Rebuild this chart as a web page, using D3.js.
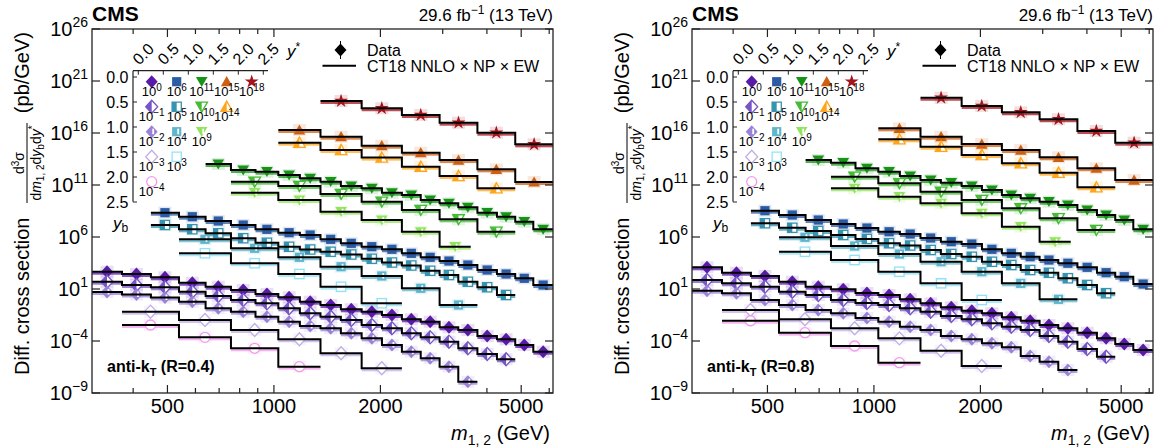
<!DOCTYPE html>
<html lang="en">
<head>
<meta charset="UTF-8" />
<title>Dijet triple-differential cross section</title>
<style>
  body { margin: 0; background: white; overflow: hidden; }
  svg { display: block; font-family: "Liberation Sans", Arial, Helvetica, sans-serif; }
</style>
</head>
<body>
<svg id="chart" width="1162" height="448"></svg>
<script src="https://d3js.org/d3.v7.min.js"></script>
<script>
// ---- data (pb/GeV, before the 10^n offsets) ----
const massEdgesFine = [306, 372, 449, 539, 641, 756, 887, 1029, 1184, 1354, 1546, 1770,
                       2020, 2300, 2600, 2940, 3320, 3760, 4270, 4810, 5410, 6150];

const seriesIds = ["s00","s01","s02","s03","s04","s10","s11","s12","s13","s20","s21","s22","s30","s31","s40"];
const yStarIdx  = [0, 0, 0, 0, 0, 1, 1, 1, 1, 2, 2, 2, 3, 3, 4];
const yBoostIdx = [0, 1, 2, 3, 4, 0, 1, 2, 3, 0, 1, 2, 0, 1, 0];
const scaleExp  = [0, -1, -2, -3, -4, 6, 5, 4, 3, 11, 10, 9, 15, 14, 18];
const seriesColor = ["#5a1aa8", "#7656c4", "#9a82d6", "#c2aee6", "#f09cec",
                     "#2b5ba3", "#3893b0", "#5fb5cb", "#92e2f4",
                     "#179417", "#45bb36", "#92e45e",
                     "#cc5f10", "#ffa51c", "#a3141c"];

// bin edges per (y*, yb) series
const edges_s00 = massEdgesFine.slice(0, 22);
const edges_s01 = massEdgesFine.slice(0, 20);
const edges_s02 = massEdgesFine.slice(0, 18);
const edges_s03 = [372, 539, 756, 1029, 1354, 1770, 2300];
const edges_s04 = [372, 539, 756, 1029, 1354];
const edges_s10 = massEdgesFine.slice(2, 22);
const edges_s11 = massEdgesFine.slice(2, 20);
const edges_s12 = [539, 756, 1029, 1354, 1770, 2300, 2940, 3760];
const edges_s13 = [539, 756, 1029, 1354, 1770, 2300];
const edges_s20 = massEdgesFine.slice(4, 22);
const edges_s21 = [756, 1029, 1354, 1770, 2300, 2940, 3760, 4810];
const edges_s22 = [756, 1029, 1354, 1770, 2300, 2940, 3600];
const edges_s30 = [1029, 1354, 1770, 2300, 2940, 3760, 4810, 6150];
const edges_s31 = [1029, 1354, 1770, 2300, 2940, 3760, 4810];
const edges_s40 = [1354, 1770, 2300, 2940, 3760, 4810, 6150];

// anti-kT R=0.4
const r04_s00 = [460, 277, 133, 40, 16.6, 8.0, 3.3, 1.59, 0.60, 0.289, 0.112, 0.066, 0.0316, 0.0122, 7.2e-3, 2.07e-3, 1.14e-3, 3.0e-4, 1.46e-4, 4.1e-5, 9.4e-6];
const r04_s01 = [502, 242, 146, 55, 21.2, 8.7, 4.2, 1.39, 0.46, 0.217, 0.104, 0.0345, 0.0166, 5.5e-3, 2.26e-3, 8.6e-4, 2.0e-4, 5.6e-5, 1.74e-5];
const r04_s02 = [514, 296, 152, 60, 13.9, 6.6, 2.17, 0.72, 0.277, 0.166, 0.055, 0.018, 4.1e-3, 9.4e-4, 2.17e-4, 3.4e-5, 1.22e-6];
const r04_s03 = [66, 10.4, 1.14, 0.146, 6.6e-3, 2.37e-4];
const r04_s04 = [34.5, 2.26, 0.199, 3.4e-3];
const r04_s10 = [217, 89, 34.5, 14.2, 5.5, 2.59, 1.56, 0.60, 0.248, 0.117, 0.066, 0.027, 0.0112, 4.9e-3, 2.03e-3, 6.7e-4, 2.77e-4, 1.07e-4, 2.4e-5];
const r04_s11 = [142, 55, 22.6, 7.5, 2.8, 1.17, 0.63, 0.385, 0.207, 0.080, 0.035, 0.018, 5.6e-3, 2.2e-3, 5.0e-4, 1.46e-4, 2.65e-5];
const r04_s12 = [60, 8.2, 1.12, 0.139, 0.0178, 1.17e-3, 2.9e-5];
const r04_s13 = [27, 2.96, 0.277, 0.0166, 4.2e-4];
const r04_s20 = [104, 27.7, 19.0, 9.1, 4.4, 2.07, 0.80, 0.48, 0.18, 0.109, 0.036, 0.0174, 7.2e-3, 2.17e-3, 8.9e-4, 2.96e-4, 5.5e-5];
const r04_s21 = [20.7, 8.0, 1.36, 0.248, 0.039, 5.0e-3, 3.2e-4];
const r04_s22 = [18.2, 3.6, 0.27, 0.043, 3.2e-3, 1.17e-4];
const r04_s30 = [19.5, 4.4, 0.60, 0.129, 0.025, 3.2e-3, 1.95e-4];
const r04_s31 = [11.7, 2.34, 0.43, 0.058, 7.4e-3, 4.8e-4];
const r04_s40 = [12, 2.4, 0.54, 0.098, 0.0107, 8.1e-4];

// anti-kT R=0.8
const r08_s00 = [1220, 369, 178, 50, 16.6, 9.4, 4.1, 2.65, 1.02, 0.42, 0.174, 0.082, 0.046, 0.019, 8.9e-3, 3.45e-3, 1.66e-3, 6.3e-4, 1.82e-4, 5.1e-5, 1.36e-5];
const r08_s01 = [733, 353, 166, 55, 26.5, 8.7, 4.5, 2.89, 1.39, 0.66, 0.253, 0.122, 0.050, 0.0237, 0.0114, 3.0e-3, 8.6e-4, 1.7e-4, 3.1e-5];
const r08_s02 = [685, 385, 87, 28.9, 9.5, 4.6, 1.63, 0.72, 0.237, 0.114, 0.030, 0.0146, 6.0e-3, 2.48e-3, 3.6e-4, 1.02e-4, 1.63e-5];
const r08_s03 = [95, 12.2, 1.66, 0.18, 0.0117, 3.9e-4];
const r08_s04 = [89, 6.3, 0.33, 8.2e-3];
const r08_s10 = [337, 130, 43, 17.8, 7.3, 3.2, 1.94, 0.80, 0.353, 0.212, 0.066, 0.027, 0.0127, 6.1e-3, 3.0e-3, 1.22e-3, 3.7e-4, 1.52e-4, 3.0e-5];
const r08_s11 = [207, 78, 37.7, 15.6, 6.4, 2.48, 1.52, 0.56, 0.232, 0.127, 0.042, 0.0203, 6.7e-3, 3.7e-3, 1.07e-3, 2.4e-4, 3.9e-5];
const r08_s12 = [94, 13.6, 2.32, 0.42, 0.046, 3.5e-3, 1.02e-4];
const r08_s13 = [38.5, 6.1, 0.46, 0.035, 8.7e-4];
const r08_s20 = [253, 139, 40, 19.0, 7.3, 3.0, 1.66, 0.80, 0.33, 0.109, 0.053, 0.0248, 0.0119, 3.9e-3, 1.30e-3, 4.3e-4, 5.5e-5];
const r08_s21 = [63, 14.6, 2.26, 0.36, 0.057, 6.3e-3, 4.7e-4];
const r08_s22 = [48, 7.5, 1.74, 0.19, 9.8e-3, 3.5e-4];
const r08_s30 = [28, 4.4, 0.87, 0.23, 0.046, 4.1e-3, 3.0e-4];
const r08_s31 = [24.5, 4.8, 0.76, 0.123, 0.0151, 6.0e-4];
const r08_s40 = [24.5, 4.0, 0.98, 0.21, 0.0155, 1.17e-3];

const seriesEdges = [edges_s00, edges_s01, edges_s02, edges_s03, edges_s04, edges_s10, edges_s11, edges_s12, edges_s13,
                     edges_s20, edges_s21, edges_s22, edges_s30, edges_s31, edges_s40];
const xsecR04 = [r04_s00, r04_s01, r04_s02, r04_s03, r04_s04, r04_s10, r04_s11, r04_s12, r04_s13,
                 r04_s20, r04_s21, r04_s22, r04_s30, r04_s31, r04_s40];
const xsecR08 = [r08_s00, r08_s01, r08_s02, r08_s03, r08_s04, r08_s10, r08_s11, r08_s12, r08_s13,
                 r08_s20, r08_s21, r08_s22, r08_s30, r08_s31, r08_s40];

const yTickExp = [26, 21, 16, 11, 6, 1, -4, -9];
const xLabelTicks = [500, 1000, 2000, 5000];
const xOtherTicks = [400, 600, 700, 800, 900, 3000, 4000, 6000];
const yStarLabels = ["0.0", "0.5", "1.0", "1.5", "2.0", "2.5"];
const yBoostLabels = ["0.0", "0.5", "1.0", "1.5", "2.0", "2.5"];

// ---- layout ----
const plotW = 461, plotTop = 29, plotBottom = 393;
const panelX = [92, 692];

const x = d3.scaleLog().domain([306, 6150]).range([0, plotW]);
const y = d3.scaleLog().domain([1e-9, 1e26]).range([plotBottom, plotTop]);

const svg = d3.select("#chart");
const defs = svg.append("defs");
defs.append("clipPath").attr("id", "leftHalf")
  .append("rect").attr("x", -10).attr("y", -10).attr("width", 10).attr("height", 20);
defs.append("clipPath").attr("id", "plotClip")
  .append("rect").attr("x", 0).attr("y", plotTop).attr("width", plotW).attr("height", plotBottom - plotTop);

const shapes = {
  diamond: "M0,-6.5L6,0L0,6.5L-6,0Z",
  square: "M-4.6,-4.6H4.6V4.6H-4.6Z",
  tdown: "M-5.8,-4.6L5.8,-4.6L0,5.4Z",
  tup: "M-5.8,4.6L5.8,4.6L0,-5.6Z",
  star: d3.symbol(d3.symbolStar, 60)(),
  circle: "M5,0A5,5 0 1,1 -5,0A5,5 0 1,1 5,0Z"
};
const colShape = ["diamond", "square", "tdown", "tup", "star"];

function drawMarker(g, col, row, color) {
  const p = row === 4 ? shapes.circle : shapes[colShape[col]];
  if (row === 0) {
    g.append("path").attr("d", p).attr("fill", color);
  } else if (row === 1) {
    g.append("path").attr("d", p).attr("fill", "white").attr("stroke", color).attr("stroke-width", 1.3);
    g.append("path").attr("d", p).attr("fill", color).attr("clip-path", "url(#leftHalf)");
  } else if (row === 2) {
    g.append("path").attr("d", p).attr("fill", color);
    g.append("rect").attr("x", 0.6).attr("y", -3).attr("width", 1.8).attr("height", 5.5).attr("fill", "white");
  } else {
    g.append("path").attr("d", p).attr("fill", "white").attr("stroke", color).attr("stroke-width", 1.3);
  }
}

function powText(sel, base, exp, size, supSize, rise) {
  sel.append("tspan").text(base).attr("font-size", size);
  sel.append("tspan").text(exp).attr("font-size", supSize).attr("dy", -rise);
}

function fmtExp(e) { return e < 0 ? "\u2212" + Math.abs(e) : String(e); }

const stepLine = d3.line().x(d => x(d[0])).y(d => y(d[1])).curve(d3.curveStepAfter);

function drawPanel(offsetX, xsec, radius) {
  const g = svg.append("g").attr("transform", `translate(${offsetX},0)`);
  const plot = g.append("g").attr("clip-path", "url(#plotClip)");

  const series = seriesIds.map((id, i) => {
    const e = seriesEdges[i];
    const f = Math.pow(10, scaleExp[i]);
    const vals = xsec[i].map(v => v * f);
    return {
      i, col: yStarIdx[i], row: yBoostIdx[i], color: seriesColor[i],
      bins: vals.map((v, j) => ({ lo: e[j], hi: e[j + 1], v })),
      steps: e.map((m, j) => [m, vals[Math.min(j, vals.length - 1)]])
    };
  });

  // coloured prediction bands under the step lines
  series.forEach(s => {
    plot.append("g").selectAll("rect").data(s.bins).join("rect")
      .attr("x", d => x(d.lo)).attr("width", d => x(d.hi) - x(d.lo))
      .attr("y", d => y(d.v) + 0.6).attr("height", 2.4)
      .attr("fill", s.color).attr("opacity", 0.75);
  });

  // data markers with light uncertainty boxes
  series.forEach(s => {
    const mk = plot.append("g").selectAll("g").data(s.bins).join("g")
      .attr("transform", d => `translate(${x(Math.sqrt(d.lo * d.hi))},${y(d.v)})`);
    mk.append("rect").attr("x", -6.5).attr("y", -6).attr("width", 13).attr("height", 12)
      .attr("fill", s.color).attr("opacity", 0.14);
    mk.each(function () { drawMarker(d3.select(this), s.col, s.row, s.color); });
  });

  // CT18 NNLO x NP x EW step lines
  plot.append("g").selectAll("path").data(series).join("path")
    .attr("d", s => stepLine(s.steps))
    .attr("fill", "none").attr("stroke", "#000").attr("stroke-width", 2);

  // frame + ticks
  g.append("rect").attr("x", 0).attr("y", plotTop).attr("width", plotW).attr("height", plotBottom - plotTop)
    .attr("fill", "none").attr("stroke", "#222").attr("stroke-width", 1.3);
  const ticks = g.append("g").attr("stroke", "#222").attr("stroke-width", 1.2);
  yTickExp.forEach(e => {
    const yy = y(Math.pow(10, e));
    ticks.append("line").attr("x1", 0).attr("x2", 8).attr("y1", yy).attr("y2", yy);
    ticks.append("line").attr("x1", plotW).attr("x2", plotW - 8).attr("y1", yy).attr("y2", yy);
  });
  xLabelTicks.concat(xOtherTicks).forEach(m => {
    const xx = x(m);
    const len = xLabelTicks.includes(m) ? 8 : 5;
    ticks.append("line").attr("x1", xx).attr("x2", xx).attr("y1", plotBottom).attr("y2", plotBottom - len);
    ticks.append("line").attr("x1", xx).attr("x2", xx).attr("y1", plotTop).attr("y2", plotTop + len);
  });

  // tick labels
  g.append("g").selectAll("text").data(yTickExp).join("text")
    .attr("x", -4).attr("y", e => y(Math.pow(10, e)) + 7)
    .attr("text-anchor", "end").attr("fill", "#000")
    .each(function (e) { powText(d3.select(this), "10", fmtExp(e), 20, 14, 9); });
  g.append("g").selectAll("text").data(xLabelTicks).join("text")
    .attr("x", d => x(d)).attr("y", 413).attr("text-anchor", "middle")
    .attr("font-size", 20).text(d => d);

  // axis titles
  const xt = g.append("text").attr("x", plotW - 3).attr("y", 440).attr("text-anchor", "end").attr("font-size", 20);
  xt.append("tspan").text("m").attr("font-style", "italic");
  xt.append("tspan").text("1, 2").attr("font-size", 14).attr("dy", 5);
  xt.append("tspan").text(" (GeV)").attr("dy", -5);

  const yt = g.append("g").attr("transform", "translate(-63,0) rotate(-90)");
  yt.append("text").attr("x", -375).attr("y", 0).attr("font-size", 20).text("Diff. cross section");
  yt.append("text").attr("x", -32).attr("y", 0).attr("font-size", 20).attr("text-anchor", "end").text("(pb/GeV)");
  const num = yt.append("text").attr("x", -163).attr("y", -5).attr("font-size", 14).attr("text-anchor", "middle");
  num.append("tspan").text("d");
  num.append("tspan").text("3").attr("font-size", 10).attr("dy", -5);
  num.append("tspan").text("\u03c3").attr("dy", 5);
  const den = yt.append("text").attr("x", -163).attr("y", 11.5).attr("font-size", 14).attr("text-anchor", "middle");
  den.append("tspan").text("d");
  den.append("tspan").text("m").attr("font-style", "italic");
  den.append("tspan").text("1, 2").attr("font-size", 10).attr("dy", 3);
  den.append("tspan").text("d").attr("dy", -3);
  den.append("tspan").text("y").attr("font-style", "italic");
  den.append("tspan").text("b").attr("font-size", 10).attr("dy", 3);
  den.append("tspan").text("d").attr("dy", -3);
  den.append("tspan").text("y").attr("font-style", "italic");
  den.append("tspan").text("*").attr("font-size", 10).attr("dy", -5);
  yt.append("line").attr("x1", -203).attr("x2", -123).attr("y1", -2).attr("y2", -2)
    .attr("stroke", "#000").attr("stroke-width", 1);

  // header
  g.append("text").attr("x", 0).attr("y", 21).attr("font-size", 21).attr("font-weight", "bold").text("CMS");
  const lumi = g.append("text").attr("x", plotW).attr("y", 21).attr("font-size", 17).attr("text-anchor", "end");
  lumi.append("tspan").text("29.6 fb");
  lumi.append("tspan").text("\u22121").attr("font-size", 12).attr("dy", -7);
  lumi.append("tspan").text(" (13 TeV)").attr("dy", 7);

  const jl = g.append("text").attr("x", 15).attr("y", 372).attr("font-size", 16).attr("font-weight", "bold");
  jl.append("tspan").text("anti-k");
  jl.append("tspan").text("T").attr("font-size", 11).attr("dy", 4);
  jl.append("tspan").text(` (R=${radius})`).attr("dy", -4);

  // Data / theory legend
  const lg = g.append("g");
  lg.append("path").attr("d", shapes.diamond).attr("transform", "translate(248.5,50)").attr("fill", "#000");
  lg.append("line").attr("x1", 248.5).attr("x2", 248.5).attr("y1", 41).attr("y2", 59).attr("stroke", "#000");
  lg.append("text").attr("x", 275).attr("y", 55.5).attr("font-size", 16).text("Data");
  lg.append("line").attr("x1", 230.5).attr("x2", 264).attr("y1", 65.7).attr("y2", 65.7)
    .attr("stroke", "#000").attr("stroke-width", 2);
  lg.append("text").attr("x", 275).attr("y", 71.5).attr("font-size", 16).text("CT18 NNLO \u00d7 NP \u00d7 EW");

  // (y*, yb) marker grid legend
  const kx = 41, ky = 70.7;
  const key = g.append("g");
  key.append("line").attr("x1", kx).attr("x2", 176).attr("y1", ky).attr("y2", ky).attr("stroke", "#222").attr("stroke-width", 1.2);
  key.append("line").attr("x1", kx).attr("x2", kx).attr("y1", ky).attr("y2", 201.7).attr("stroke", "#222").attr("stroke-width", 1.2);
  yStarLabels.forEach((t, k) => {
    const tx = 46.3 + 25 * k;
    key.append("line").attr("x1", tx).attr("x2", tx).attr("y1", ky).attr("y2", ky + 4).attr("stroke", "#222");
    key.append("text").attr("transform", `translate(${tx + 1},${ky - 5}) rotate(-45)`)
      .attr("font-size", 16).text(t);
  });
  const ys = key.append("text").attr("x", 195).attr("y", 57).attr("font-size", 17);
  ys.append("tspan").text("y").attr("font-style", "italic");
  ys.append("tspan").text("*").attr("font-size", 12).attr("dy", -6);
  yBoostLabels.forEach((t, k) => {
    const ty = 77 + 25 * k;
    key.append("line").attr("x1", kx).attr("x2", kx + 4).attr("y1", ty).attr("y2", ty).attr("stroke", "#222");
    key.append("text").attr("x", 36.5).attr("y", ty + 5.5).attr("text-anchor", "end")
      .attr("font-size", 16).text(t);
  });
  const yb = key.append("text").attr("x", 21).attr("y", 229).attr("font-size", 17);
  yb.append("tspan").text("y").attr("font-style", "italic");
  yb.append("tspan").text("b").attr("font-size", 12).attr("dy", 3);

  const cells = key.append("g").selectAll("g").data(series).join("g")
    .attr("transform", s => `translate(${59.7 + 25 * s.col},${81.7 + 25 * s.row})`);
  cells.each(function (s) { drawMarker(d3.select(this), s.col, s.row, s.color); });
  cells.append("text").attr("x", 0).attr("y", 14.5).attr("text-anchor", "middle")
    .each(function (s) { powText(d3.select(this), "10", fmtExp(scaleExp[s.i]), 13, 10, 5); });
}

drawPanel(panelX[0], xsecR04, "0.4");
drawPanel(panelX[1], xsecR08, "0.8");
</script>
</body>
</html>
